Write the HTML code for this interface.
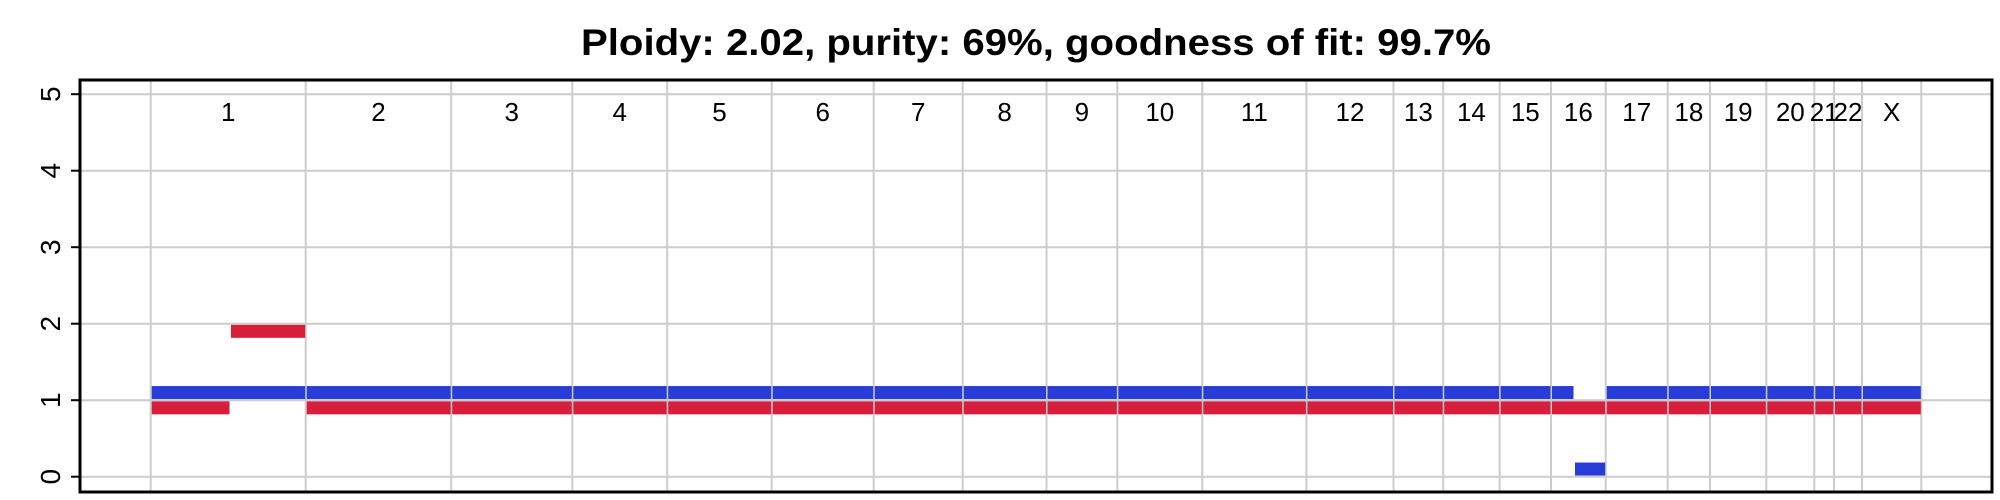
<!DOCTYPE html>
<html><head><meta charset="utf-8"><style>
html,body{margin:0;padding:0;background:#fff;}
svg{display:block;font-family:"Liberation Sans",Arial,sans-serif;}
</style></head><body>
<svg id="chart" width="2000" height="500" viewBox="0 0 2000 500">
<text x="1036" y="55" text-anchor="middle" font-size="37" font-weight="bold" textLength="910" lengthAdjust="spacingAndGlyphs">Ploidy: 2.02, purity: 69%, goodness of fit: 99.7%</text>
<g id="grid"></g>
<g id="bars"></g>
<g id="labels"></g>
<g id="yaxis"></g>
<rect x="80" y="80" width="1912" height="412" fill="none" stroke="#000" stroke-width="3"/>
</svg>
<script>
const chromNames = ["1","2","3","4","5","6","7","8","9","10","11","12","13","14","15","16","17","18","19","20","21","22","X"];
const chromLengths = [155,145.5,121.1,94.9,104.5,102,89,83.8,70.8,85,104.1,87.1,49.7,56.4,51.4,54.7,62,42.3,56.3,48,19.7,28,59.3];
const yTicks = [0,1,2,3,4,5];
// major (red) segments: chromosome index, start, end, copy number
const majChrom = [0,0,1,2,3,4,5,6,7,8,9,10,11,12,13,14,15,16,17,18,19,20,21,22];
const majStart = [0,79.3,0,0,0,0,0,0,0,0,0,0,0,0,0,0,0,0,0,0,0,0,0,0];
const majEnd   = [79.3,155,145.5,121.1,94.9,104.5,102,89,83.8,70.8,85,104.1,87.1,49.7,56.4,51.4,54.7,62,42.3,56.3,48,19.7,28,59.3];
const majValue = [1,2,1,1,1,1,1,1,1,1,1,1,1,1,1,1,1,1,1,1,1,1,1,1];
// minor (blue) segments
const minChrom = [0,1,2,3,4,5,6,7,8,9,10,11,12,13,14,15,15,16,17,18,19,20,21,22];
const minStart = [0,0,0,0,0,0,0,0,0,0,0,0,0,0,0,0,23,0,0,0,0,0,0,0];
const minEnd   = [155,145.5,121.1,94.9,104.5,102,89,83.8,70.8,85,104.1,87.1,49.7,56.4,51.4,23,54.7,62,42.3,56.3,48,19.7,28,59.3];
const minValue = [1,1,1,1,1,1,1,1,1,1,1,1,1,1,1,1,0,1,1,1,1,1,1,1];

const NS="http://www.w3.org/2000/svg";
const X0=150.7, X1=1921.3, Y0=476.7, YU=76.5;
const total = chromLengths.reduce((a,b)=>a+b,0);
const chromStart=[]; {let c=0; for(const l of chromLengths){chromStart.push(c); c+=l;}}
const xs = g => X0 + g/total*(X1-X0);
const ys = v => Y0 - v*YU;
function mk(tag, parent, attrs){const e=document.createElementNS(NS,tag); for(const k in attrs) e.setAttribute(k,attrs[k]); document.getElementById(parent).appendChild(e); return e;}

yTicks.forEach(t=>{
  const l=mk('line','grid',{x1:80,x2:1992,y1:ys(t),y2:ys(t),stroke:'#cccccc','stroke-width':2});
  
  
  const tk=mk('line','yaxis',{x1:71,x2:80,y1:ys(t),y2:ys(t),stroke:'#000','stroke-width':2});
  
  
  const tx=mk('text','yaxis',{x:0,y:0,'font-size':28,'text-anchor':'middle',transform:`translate(60,${ys(t)}) rotate(-90)`});
  tx.textContent=t;
  
  
});
const bounds=[...chromStart,total];
bounds.forEach(b=>{
  const l=mk('line','grid',{x1:xs(b),x2:xs(b),y1:80,y2:492,stroke:'#cccccc','stroke-width':2});
  
  
});
chromNames.forEach((n,i)=>{
  const t=mk('text','labels',{x:xs(chromStart[i]+chromLengths[i]/2),y:121,'font-size':26,'text-anchor':'middle'});
  t.textContent=n;
  
  
});
majChrom.forEach((c,i)=>{
  const a=xs(chromStart[c]+majStart[i]), b=xs(chromStart[c]+majEnd[i]);
  const r=mk('rect','bars',{x:a+1,y:ys(majValue[i]-0.1)-6.5,width:b-a-1.5,height:13,fill:'#d71e3a'});
  
  
});
minChrom.forEach((c,i)=>{
  const a=xs(chromStart[c]+minStart[i]), b=xs(chromStart[c]+minEnd[i]);
  const r=mk('rect','bars',{x:a+1,y:ys(minValue[i]+0.1)-6.5,width:b-a-1.5,height:13,fill:'#283cd7'});
  
  
});
</script>
</body></html>
